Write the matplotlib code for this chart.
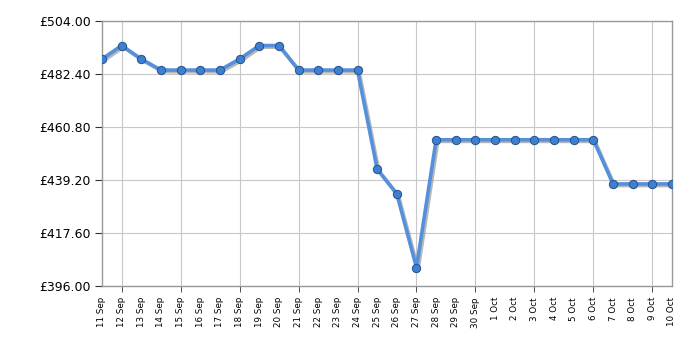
import matplotlib
matplotlib.use("Agg")
import matplotlib.pyplot as plt
import matplotlib.transforms as mtransforms
import numpy as np

dates = ["11 Sep", "12 Sep", "13 Sep", "14 Sep", "15 Sep", "16 Sep", "17 Sep", "18 Sep",
         "19 Sep", "20 Sep", "21 Sep", "22 Sep", "23 Sep", "24 Sep", "25 Sep", "26 Sep",
         "27 Sep", "28 Sep", "29 Sep", "30 Sep", "1 Oct", "2 Oct", "3 Oct", "4 Oct",
         "5 Oct", "6 Oct", "7 Oct", "8 Oct", "9 Oct", "10 Oct"]
prices = [488.5, 494.0, 488.5, 484.0, 484.0, 484.0, 484.0, 488.5,
          494.0, 494.0, 484.0, 484.0, 484.0, 484.0, 443.6, 433.5,
          403.5, 455.6, 455.6, 455.6, 455.6, 455.6, 455.6, 455.6,
          455.6, 455.6, 437.6, 437.6, 437.6, 437.6]
y_ticks = [396.0, 417.6, 439.2, 460.8, 482.4, 504.0]

LINE_COLOR = "#5590dc"
GRID_COLOR = "#c8c8c8"

fig = plt.figure(figsize=(7, 3.5), dpi=100)
ax = fig.add_axes([102 / 700, 1 - 286 / 350, 570 / 700, 265 / 350])

x = np.arange(len(dates))

# drop shadow
shadow = mtransforms.offset_copy(ax.transData, fig=fig, x=1.2, y=-1.2, units="points")
ax.plot(x, prices, color="#999999", linewidth=2.6, alpha=0.7, transform=shadow,
        solid_joinstyle="round", zorder=2)
ax.plot(x, prices, color=LINE_COLOR, linewidth=2.6, solid_joinstyle="round", zorder=3)
ax.plot(x, prices, linestyle="none", marker="o", markersize=6,
        markerfacecolor="#3f7fd0", markeredgecolor="#24528c", markeredgewidth=0.7, zorder=4)

ax.set_xlim(0, len(dates) - 1)
ax.set_ylim(y_ticks[0], y_ticks[-1])

ax.set_yticks(y_ticks)
ax.set_yticklabels([f"£{v:.2f}" for v in y_ticks], fontsize=9)

# labels on every day, ticks + grid every third day
ax.set_xticks(x)
ax.set_xticklabels(dates, rotation=90, fontsize=6.3)
ax.set_xticks(list(range(1, len(dates), 3)), minor=True)
ax.xaxis.remove_overlapping_locs = False
ax.tick_params(axis="x", which="major", length=0, pad=8)
ax.tick_params(axis="x", which="minor", length=4, color="#333333")
ax.tick_params(axis="y", length=5, color="#333333", pad=3)

ax.grid(True, axis="y", color=GRID_COLOR, linewidth=0.8)
ax.grid(True, axis="x", which="minor", color=GRID_COLOR, linewidth=0.8)
ax.set_axisbelow(True)
for s in ax.spines.values():
    s.set_color("#999999")
    s.set_linewidth(1.0)

fig.savefig("out.png", dpi=100)
